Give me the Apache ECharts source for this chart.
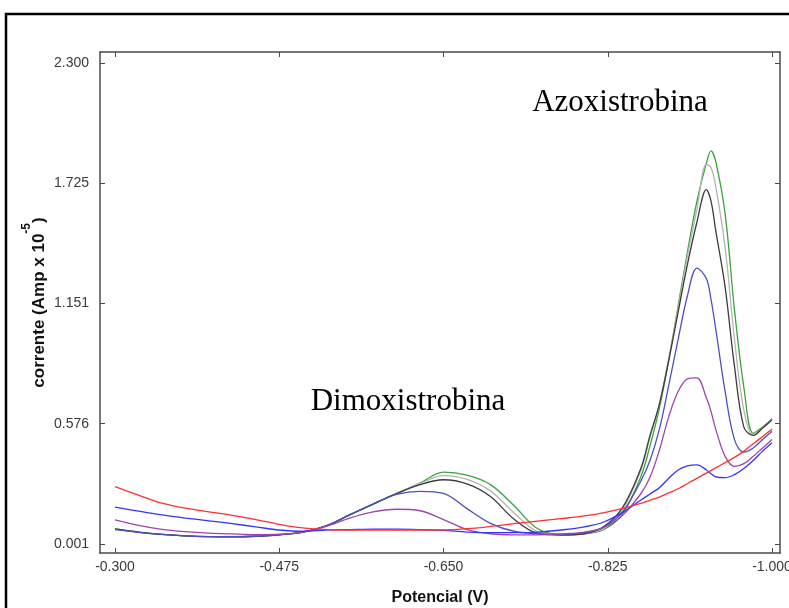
<!DOCTYPE html>
<html>
<head>
<meta charset="utf-8">
<script src="https://cdn.jsdelivr.net/npm/echarts@6/dist/echarts.min.js"></script>
<style>
  html, body { margin: 0; padding: 0; background: #fff; }
  #chart { width: 789px; height: 608px; }
</style>
</head>
<body>
<div id="chart"></div>
<script>
// Potential sweep (V) shared by all voltammograms
const potential = [
  -0.300, -0.325, -0.350, -0.375, -0.400, -0.425, -0.450, -0.475, -0.500, -0.525,
  -0.550, -0.575, -0.600, -0.625, -0.650, -0.675, -0.700, -0.725, -0.750, -0.775,
  -0.800, -0.820, -0.840, -0.860, -0.870, -0.880, -0.890, -0.900, -0.910, -0.920,
  -0.930, -0.935, -0.940, -0.950, -0.960, -0.970, -0.980, -0.990, -1.000
];

// Current (Amp x 10^-5) for each addition
const currentGreen = [
  0.073, 0.058, 0.047, 0.040, 0.036, 0.035, 0.038, 0.045, 0.058, 0.088,
  0.140, 0.192, 0.243, 0.292, 0.345, 0.330, 0.285, 0.185, 0.075, 0.047,
  0.050, 0.068, 0.140, 0.320, 0.470, 0.650, 0.880, 1.140, 1.400, 1.640,
  1.820, 1.880, 1.830, 1.580, 1.120, 0.750, 0.530, 0.560, 0.600
];
const currentLightGray = [
  0.073, 0.058, 0.047, 0.040, 0.036, 0.035, 0.038, 0.045, 0.058, 0.088,
  0.140, 0.192, 0.243, 0.290, 0.328, 0.310, 0.255, 0.150, 0.060, 0.045,
  0.050, 0.078, 0.160, 0.350, 0.510, 0.670, 0.890, 1.130, 1.380, 1.600,
  1.815, 1.800, 1.710, 1.420, 0.980, 0.640, 0.520, 0.555, 0.598
];
const currentDarkGray = [
  0.073, 0.058, 0.047, 0.040, 0.036, 0.035, 0.038, 0.045, 0.058, 0.088,
  0.140, 0.192, 0.242, 0.285, 0.308, 0.288, 0.228, 0.120, 0.052, 0.044,
  0.050, 0.082, 0.170, 0.360, 0.520, 0.670, 0.880, 1.110, 1.340, 1.540,
  1.695, 1.640, 1.500, 1.230, 0.850, 0.560, 0.520, 0.555, 0.595
];
const currentViolet = [
  0.070, 0.057, 0.047, 0.040, 0.036, 0.036, 0.038, 0.045, 0.058, 0.088,
  0.140, 0.192, 0.238, 0.253, 0.243, 0.170, 0.100, 0.062, 0.050, 0.047,
  0.055, 0.080, 0.150, 0.300, 0.400, 0.550, 0.760, 0.980, 1.190, 1.320,
  1.270, 1.170, 1.030, 0.730, 0.500, 0.440, 0.460, 0.500, 0.540
];
const currentPurple = [
  0.116, 0.090, 0.071, 0.060, 0.053, 0.049, 0.046, 0.048, 0.058, 0.085,
  0.125, 0.155, 0.167, 0.160, 0.118, 0.070, 0.050, 0.045, 0.045, 0.049,
  0.058, 0.078, 0.135, 0.240, 0.320, 0.450, 0.610, 0.730, 0.790, 0.795,
  0.700, 0.635, 0.550, 0.420, 0.372, 0.385, 0.420, 0.460, 0.500
];
const currentBlue = [
  0.177, 0.158, 0.140, 0.125, 0.112, 0.098, 0.083, 0.068, 0.062, 0.068,
  0.070, 0.072, 0.072, 0.070, 0.066, 0.058, 0.055, 0.055, 0.058, 0.068,
  0.083, 0.105, 0.150, 0.210, 0.240, 0.270, 0.315, 0.355, 0.375, 0.379,
  0.355, 0.337, 0.322, 0.318, 0.333, 0.362, 0.400, 0.445, 0.485
];
const currentRed = [
  0.275, 0.235, 0.196, 0.172, 0.155, 0.138, 0.118, 0.095, 0.078, 0.070,
  0.068, 0.068, 0.068, 0.068, 0.068, 0.074, 0.085, 0.098, 0.110, 0.122,
  0.135, 0.150, 0.170, 0.195, 0.210, 0.225, 0.245, 0.265, 0.290, 0.315,
  0.340, 0.352, 0.365, 0.390, 0.415, 0.445, 0.480, 0.515, 0.550
];

// Axis tick labels
const xTicks = [-0.300, -0.475, -0.650, -0.825, -1.000];
const yTicks = [0.001, 0.576, 1.151, 1.725, 2.300];

const curves = [
  { values: currentGreen, color: '#3aa53a' },
  { values: currentLightGray, color: '#b4b4b4' },
  { values: currentDarkGray, color: '#3c3c3c' },
  { values: currentViolet, color: '#4f4fc4' },
  { values: currentPurple, color: '#a044ac' },
  { values: currentBlue, color: '#3434ff' },
  { values: currentRed, color: '#ff3030' }
];

const frameColor = '#4a4a4a';
const labelStyle = { color: '#3a3a3a', fontSize: 14, fontFamily: 'Liberation Sans, Arial, sans-serif' };

function xAxisDef(pos, showLabels) {
  return {
    type: 'value', position: pos, inverse: true,
    min: -1.0085, max: -0.284,
    axisLine: { onZero: false, lineStyle: { color: frameColor, width: 1.5 } },
    axisTick: { inside: true, length: 5, customValues: xTicks, lineStyle: { color: frameColor } },
    axisLabel: Object.assign({ show: showLabels, customValues: xTicks, margin: 7,
      formatter: v => v.toFixed(3) }, labelStyle),
    splitLine: { show: false }
  };
}
function yAxisDef(pos, showLabels) {
  return {
    type: 'value', position: pos,
    min: -0.042, max: 2.3526,
    axisLine: { onZero: false, lineStyle: { color: frameColor, width: 1.5 } },
    axisTick: { inside: true, length: 5, customValues: yTicks, lineStyle: { color: frameColor } },
    axisLabel: Object.assign({ show: showLabels, customValues: yTicks, margin: 11,
      formatter: v => v.toFixed(3) }, labelStyle),
    splitLine: { show: false }
  };
}

const xMain = xAxisDef('bottom', true);
xMain.name = 'Potencial (V)';
xMain.nameLocation = 'middle';
xMain.nameGap = 37;
xMain.nameMoveOverlap = false;
xMain.nameTextStyle = { color: '#111', fontSize: 16, fontWeight: 'bold', fontFamily: 'Liberation Sans, Arial, sans-serif' };

const yMain = yAxisDef('left', true);
yMain.name = '{t|corrente (Amp x 10}{s|-5}{t|)}';
yMain.nameLocation = 'middle';
yMain.nameGap = 52;
yMain.nameMoveOverlap = false;
yMain.nameTextStyle = {
  color: '#111', fontWeight: 'bold', fontFamily: 'Liberation Sans, Arial, sans-serif',
  rich: {
    t: { fontSize: 17, fontWeight: 'bold', lineHeight: 27, verticalAlign: 'bottom', color: '#111' },
    s: { fontSize: 12, fontWeight: 'bold', lineHeight: 27, verticalAlign: 'top', color: '#111' }
  }
};

const chart = echarts.init(document.getElementById('chart'), null, { renderer: 'canvas' });
chart.setOption({
  animation: false,
  backgroundColor: '#fff',
  grid: { left: 100, right: 9, top: 52, bottom: 55, containLabel: false, outerBoundsMode: 'none' },
  xAxis: [xMain, xAxisDef('top', false)],
  yAxis: [yMain, yAxisDef('right', false)],
  series: curves.map(c => ({
    type: 'line',
    xAxisIndex: 0, yAxisIndex: 0,
    data: potential.map((p, i) => [p, c.values[i]]),
    showSymbol: false,
    smooth: 0.35,
    lineStyle: { color: c.color, width: 1.3 },
    itemStyle: { color: c.color }
  })),
  graphic: [
    { type: 'rect', shape: { x: 6, y: 14, width: 820, height: 640 },
      style: { fill: 'none', stroke: '#000', lineWidth: 2.5 }, silent: true },
    { type: 'text', x: 620, y: 103,
      style: { text: 'Azoxistrobina', font: '31px "Liberation Serif", "Times New Roman", serif',
        fill: '#000', align: 'center', verticalAlign: 'middle' } },
    { type: 'text', x: 408, y: 402,
      style: { text: 'Dimoxistrobina', font: '31px "Liberation Serif", "Times New Roman", serif',
        fill: '#000', align: 'center', verticalAlign: 'middle' } }
  ]
});
</script>
</body>
</html>
